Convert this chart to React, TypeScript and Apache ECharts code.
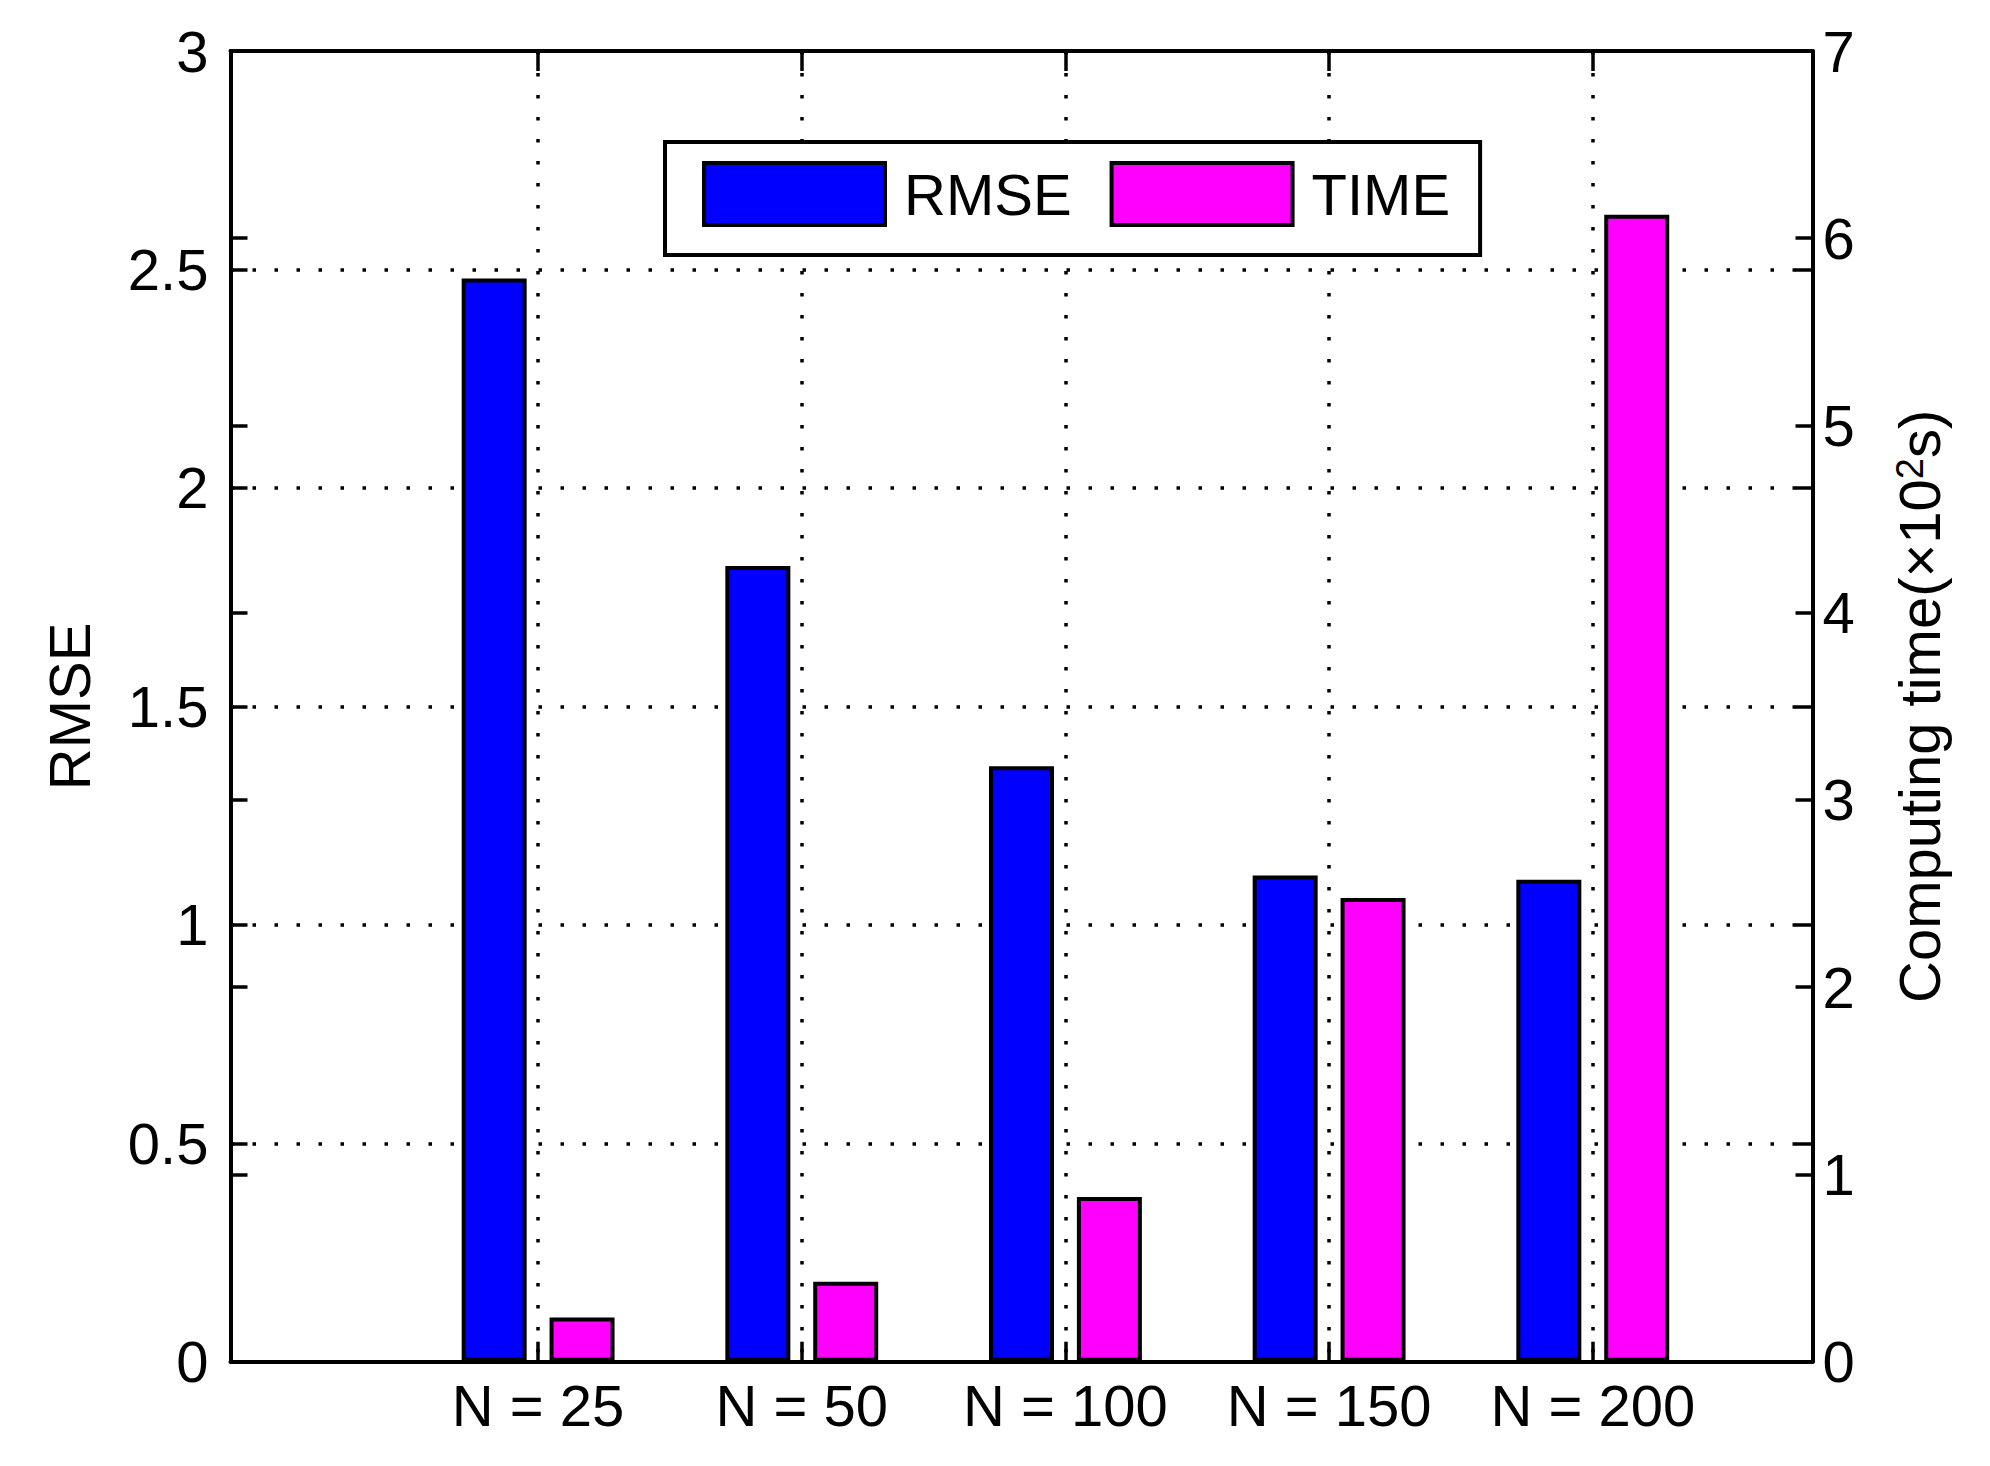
import React, { useEffect, useRef } from "react";
import * as echarts from "echarts";

// ---- data ----
const categories = ["N = 25", "N = 50", "N = 100", "N = 150", "N = 200"];
const rmseValues = [2.479, 1.821, 1.363, 1.113, 1.103];
const timeValues = [0.236, 0.427, 0.88, 2.476, 6.126];
const seriesNames = ["RMSE", "TIME"];
const leftAxisRange = { min: 0, max: 3, interval: 0.5 };
const rightAxisRange = { min: 0, max: 7, interval: 1 };
const xRange = { min: 0, max: 6 };
const barShift = 1 / 3; // TIME bars sit one third of a unit right of RMSE bars

const rmseX = categories.map((_, i) => i + 1);
const timeX = categories.map((_, i) => i + 1 + barShift);
const groupX = categories.map((_, i) => i + 1 + barShift / 2);

const FONT = "'Liberation Sans', Arial, Helvetica, sans-serif";
const BLACK = "#000000";
const FS = 58;

export default function App() {
  const ref = useRef<HTMLDivElement>(null);

  useEffect(() => {
    if (!ref.current) return;
    const chart = echarts.init(ref.current, null, { renderer: "svg" });

    const axisLine = { show: true, onZero: false, lineStyle: { color: BLACK, width: 4 } };
    const dotted = { color: BLACK, width: 3.5, type: [3.5, 18.5] as any };
    const tickStyle = { color: BLACK, width: 3.5 };
    const labelText = { fontSize: FS, fontFamily: FONT, color: BLACK };

    const option: any = {
      animation: false,
      backgroundColor: "#ffffff",
      grid: {
        left: 230.5,
        right: 177.5,
        top: 51,
        bottom: 104.3,
        containLabel: false,
        outerBoundsMode: "none",
      },
      legend: {
        show: true,
        data: seriesNames,
        left: 665,
        top: 142,
        orient: "horizontal",
        icon: "rect",
        itemWidth: 181,
        itemHeight: 62,
        itemGap: 38,
        padding: [19, 30, 28, 37],
        borderColor: BLACK,
        borderWidth: 4,
        borderRadius: 0,
        backgroundColor: "#ffffff",
        selectedMode: false,
        itemStyle: { borderColor: BLACK, borderWidth: 4 },
        textStyle: { ...labelText, padding: [0, 0, 0, 14] },
      },
      xAxis: [
        {
          type: "value",
          position: "bottom",
          min: xRange.min,
          max: xRange.max,
          axisLine,
          axisTick: { show: true, inside: true, length: 20, lineStyle: tickStyle, customValues: groupX },
          axisLabel: {
            show: true,
            customValues: groupX,
            margin: 15,
            ...labelText,
            formatter: (v: number) => {
              const idx = Math.round(v - 1 - barShift / 2);
              return categories[idx] ?? "";
            },
          },
          splitLine: { show: true, lineStyle: dotted },
        },
        {
          type: "value",
          position: "top",
          min: xRange.min,
          max: xRange.max,
          axisLine,
          axisTick: { show: true, inside: true, length: 20, lineStyle: tickStyle, customValues: groupX },
          axisLabel: { show: false, customValues: groupX },
          splitLine: { show: false },
        },
      ],
      yAxis: [
        {
          type: "value",
          position: "left",
          ...leftAxisRange,
          axisLine,
          axisTick: { show: true, inside: true, length: 17, lineStyle: tickStyle },
          axisLabel: { show: true, margin: 22, ...labelText },
          splitLine: { show: true, lineStyle: dotted },
          name: "RMSE",
          nameLocation: "middle",
          nameRotate: 90,
          nameGap: 132,
          nameTextStyle: { ...labelText },
        },
        {
          type: "value",
          position: "right",
          ...rightAxisRange,
          axisLine,
          axisTick: { show: true, inside: true, length: 17, lineStyle: tickStyle },
          axisLabel: { show: true, margin: 10, ...labelText },
          splitLine: { show: false },
          name: "{a|Computing time(\u00d710}{s|2}{a|s)}",
          nameLocation: "middle",
          nameRotate: 90,
          nameGap: 78,
          nameTextStyle: {
            ...labelText,
            rich: {
              a: { ...labelText },
              s: { fontSize: 38, fontFamily: FONT, color: BLACK, verticalAlign: "top" },
            },
          },
        },
        {
          type: "value",
          position: "right",
          ...leftAxisRange,
          axisLine: { show: false, onZero: false },
          axisTick: { show: true, inside: true, length: 17, lineStyle: tickStyle },
          axisLabel: { show: false },
          splitLine: { show: false },
        },
        {
          type: "value",
          position: "left",
          ...rightAxisRange,
          axisLine: { show: false, onZero: false },
          axisTick: { show: true, inside: true, length: 17, lineStyle: tickStyle },
          axisLabel: { show: false },
          splitLine: { show: false },
        },
      ],
      series: [
        {
          type: "bar",
          name: seriesNames[0],
          xAxisIndex: 0,
          yAxisIndex: 0,
          barWidth: 65,
          data: rmseX.map((x, i) => [x, rmseValues[i]]),
          itemStyle: { color: "#0000ff", borderColor: BLACK, borderWidth: 4 },
          emphasis: { disabled: true },
        },
        {
          type: "bar",
          name: seriesNames[1],
          xAxisIndex: 1,
          yAxisIndex: 1,
          barWidth: 65,
          data: timeX.map((x, i) => [x, timeValues[i]]),
          itemStyle: { color: "#ff00ff", borderColor: BLACK, borderWidth: 4 },
          emphasis: { disabled: true },
        },
      ],
    };

    chart.setOption(option);
    return () => chart.dispose();
  }, []);

  return (
    <div
      ref={ref}
      style={{ position: "fixed", left: 0, top: 0, width: 1990, height: 1466, background: "#fff" }}
    />
  );
}
